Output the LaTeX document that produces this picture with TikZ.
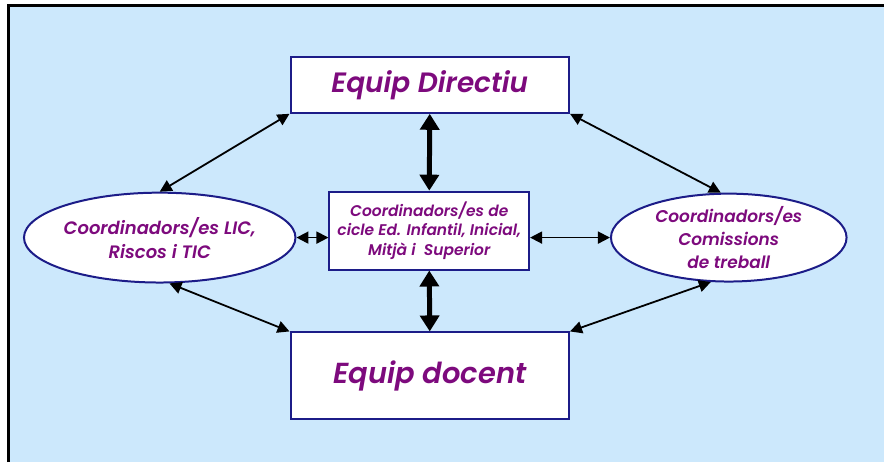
\documentclass[tikz,border=0pt]{standalone}
\usepackage{fontspec}
\setmainfont{Poppins}[BoldFont={Poppins SemiBold}, BoldItalicFont={Poppins SemiBold Italic}]
\usetikzlibrary{arrows.meta,shapes.geometric}

\definecolor{fons}{HTML}{CCE8FC}
\definecolor{vora}{HTML}{1C1C88}
\definecolor{lila}{HTML}{7D0A7D}

\tikzset{
    caixa/.style={draw=vora, line width=2pt, fill=white, align=center, inner sep=0pt,
        text=lila, font=\bfseries\itshape},
    ovalc/.style={ellipse, draw=vora, line width=2pt, fill=white, align=center, inner sep=0pt,
        text=lila, font=\bfseries\itshape},
    fletxa/.style={{Triangle[width=12pt,length=12pt]}-{Triangle[width=12pt,length=12pt]}, line width=1.8pt},
    fletxag/.style={{Triangle[width=19pt,length=16pt]}-{Triangle[width=19pt,length=16pt]}, line width=5pt}
}

\begin{document}
\begin{tikzpicture}[x=1pt, y=-1pt]
            % fons i marc
            \fill[white] (0,0) rectangle (885,463);
            \fill[fons] (9,6) rectangle (885,463);
            \draw[line width=3pt] (9,463) -- (9,6) -- (885,6);
            \useasboundingbox (0,0) rectangle (885,463);

            % caixes
            \node[caixa, minimum width=279pt, minimum height=56pt, font=\fontsize{28}{30}\selectfont\bfseries\itshape]
                (dir) at (430.5,85) {Equip Directiu};
            \node[caixa, minimum width=200pt, minimum height=78pt, font=\fontsize{15.5}{19.5}\selectfont\bfseries\itshape]
                (cicle) at (430,231) {Coordinadors/es de\\cicle Ed. Infantil, Inicial,\\Mitjà i\ \ Superior};
            \node[caixa, minimum width=279pt, minimum height=87pt, font=\fontsize{29}{32}\selectfont\bfseries\itshape]
                (doc) at (430.5,376.5) {Equip docent};

            % el·lipses
            \node[ovalc, minimum width=260pt, minimum height=90pt, font=\fontsize{18}{24}\selectfont\bfseries\itshape]
                (lic) at (160,238) {Coordinadors/es LIC,\\Riscos i TIC};
            \node[ovalc, minimum width=236pt, minimum height=88pt, font=\fontsize{17}{23}\selectfont\bfseries\itshape]
                (com) at (730,238) {Coordinadors/es\\Comissions\\de treball};

            % fletxes gruixudes
            \draw[fletxag] (dir.south) -- (cicle.north);
            \draw[fletxag] (cicle.south) -- (doc.north);

            % fletxes primes
            \draw[fletxa] (dir.south west) -- (lic.north);
            \draw[fletxa] (dir.south east) -- (com.100);
            \draw[fletxa] (lic.east) -- (lic.east -| cicle.west);
            \draw[fletxa] (com.west -| cicle.east) -- (com.west);
            \draw[fletxa] (lic.-78) -- (doc.north west);
            \draw[fletxa] (com.-112) -- (doc.north east);
        \end{tikzpicture}
\end{document}
